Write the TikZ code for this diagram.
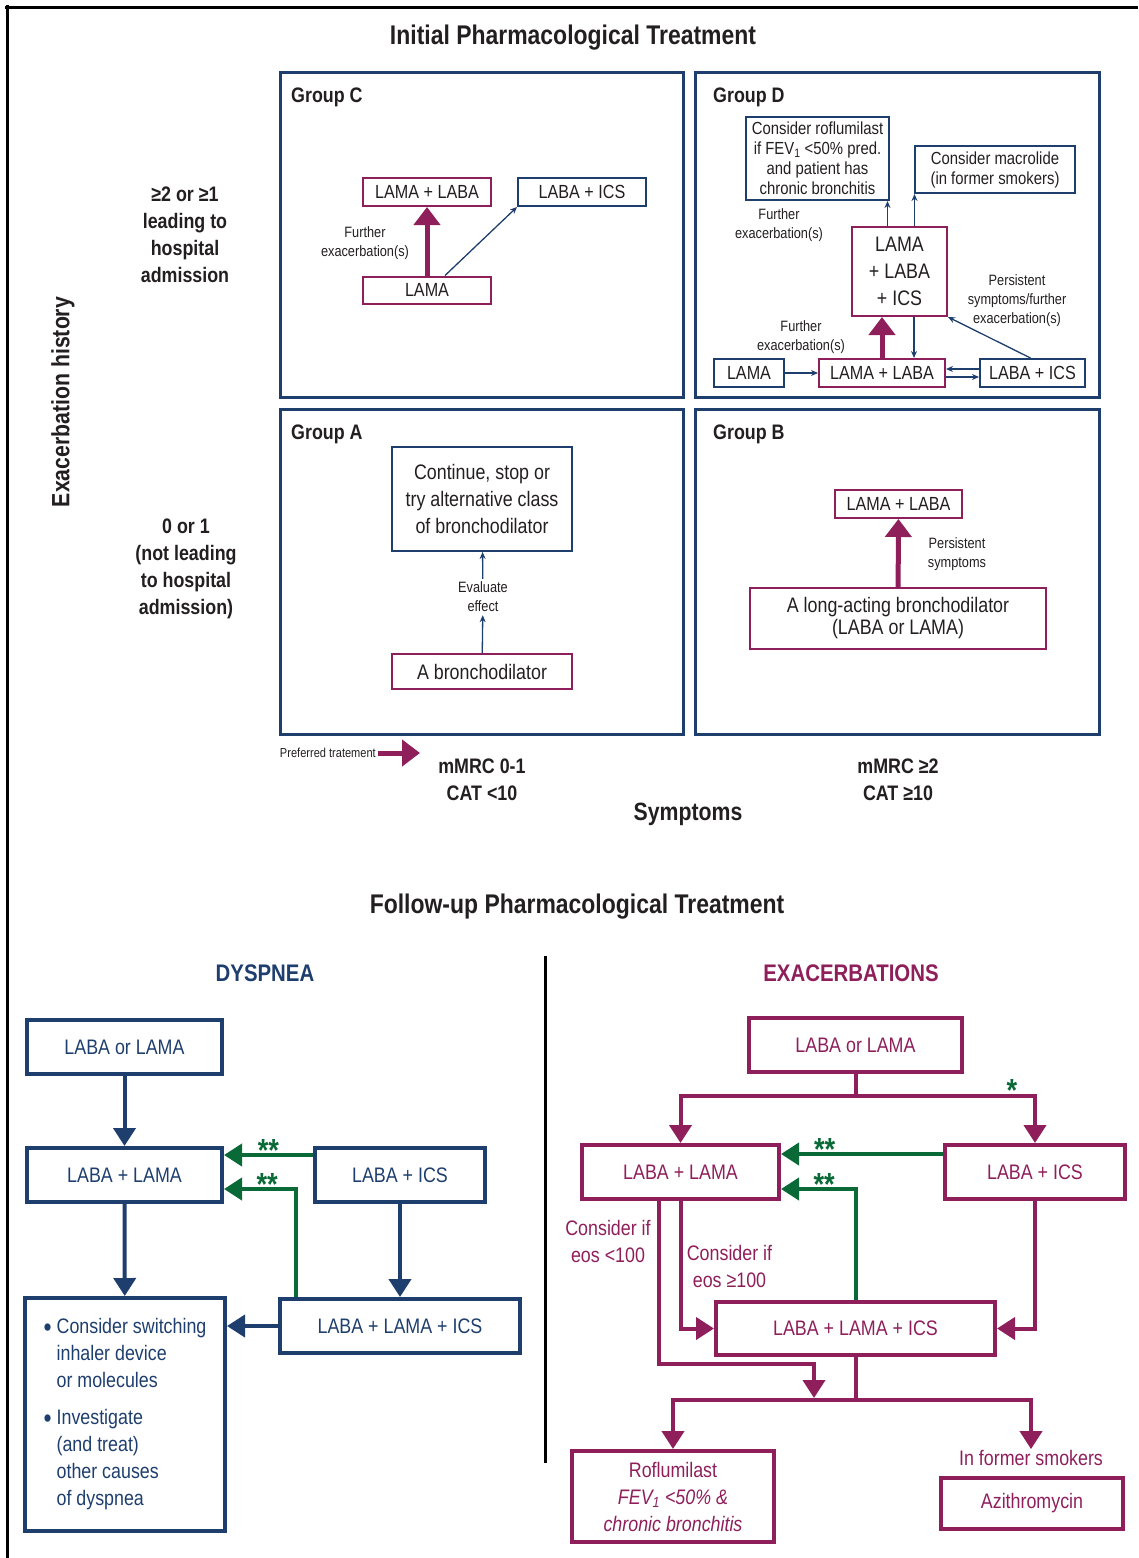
\documentclass[tikz,border=0pt]{standalone}
\usepackage{fontspec}
\setmainfont{Liberation Sans}[FakeStretch=0.85]
\usetikzlibrary{arrows.meta, calc, positioning}

\definecolor{navy}{RGB}{30,62,110}
\definecolor{plum}{RGB}{142,31,91}
\definecolor{leaf}{RGB}{10,106,55}
\definecolor{ink}{RGB}{35,31,32}

\tikzset{
  grp/.style={draw=navy, line width=3pt},
  grplabel/.style={anchor=west, inner sep=0pt, text=ink, font=\fontsize{21}{25}\selectfont\bfseries},
  box/.style={draw, line width=2pt, inner sep=0pt, align=center, text=ink, font=\fontsize{19}{23}\selectfont},
  nbox/.style={box, draw=navy},
  pbox/.style={box, draw=plum},
  fbox/.style={draw, line width=4pt, inner sep=0pt, align=center, font=\fontsize{21}{27}\selectfont},
  small/.style={inner sep=2pt, align=center, text=ink, font=\fontsize{15}{19}\selectfont},
  head/.style={inner sep=0pt, align=center, text=ink, font=\fontsize{21}{27}\selectfont\bfseries},
  tarrow/.style={navy, line width=1.3pt, -{Stealth[length=7pt,width=6pt]}},
  parrow/.style={plum, line width=5pt, -{Triangle[length=18pt,width=26pt]}},
  farrow/.style={line width=4pt, -{Triangle[length=18pt,width=22pt]}},
  garrow/.style={farrow, leaf},
  stars/.style={inner sep=0pt, text=leaf, font=\fontsize{32}{32}\selectfont\bfseries},
}

\begin{document}
\begin{tikzpicture}[x=1pt, y=-1pt]

\useasboundingbox (0,0) rectangle (1138,1558);

% Outer frame (top and left only)
\draw[black, line width=3pt] (5,7) -- (1138,7);
\draw[black, line width=3pt] (7,5) -- (7,1558);

% Title of the upper part
\node[head, font=\fontsize{27}{32}\selectfont\bfseries] (initTitle) at (573,38) {Initial Pharmacological Treatment};

% The four group frames
\draw[grp] (280,72) rectangle (683,397);
\draw[grp] (695,72) rectangle (1099,397);
\draw[grp] (280,409) rectangle (683,734);
\draw[grp] (695,409) rectangle (1099,734);
\node[grplabel] (labC) at (291,97) {Group C};
\node[grplabel] (labD) at (713,97) {Group D};
\node[grplabel] (labA) at (291,434) {Group A};
\node[grplabel] (labB) at (713,434) {Group B};

% Group C
\node[pbox, minimum width=128pt, minimum height=28pt] (cLL) at (427,192) {LAMA + LABA};
\node[nbox, minimum width=128pt, minimum height=28pt] (cLI) at (582,192) {LABA + ICS};
\node[pbox, minimum width=128pt, minimum height=27pt] (cL) at (427,290) {LAMA};
\draw[parrow] (cL) -- (cLL);
\draw[tarrow] ([xshift=18pt]cL.north) -- (cLI.south west);
\node[small] (cFurther) at (365,243) {Further\\exacerbation(s)};

% Group D
\node[nbox, font=\fontsize{17.5}{20}\selectfont, minimum width=143pt, minimum height=83pt] (dRof) at (817.5,158.5) {Consider roflumilast\\if FEV\textsubscript{1} <50\% pred.\\and patient has\\chronic bronchitis};
\node[nbox, font=\fontsize{17.5}{20}\selectfont, minimum width=160pt, minimum height=47pt] (dMac) at (995,169.5) {Consider macrolide\\(in former smokers)};
\node[pbox, font=\fontsize{21}{27}\selectfont, minimum width=95pt, minimum height=89pt] (dTriple) at (899.5,271.5) {LAMA\\+ LABA\\+ ICS};
\node[nbox, minimum width=70pt, minimum height=28pt] (dL) at (749,373) {LAMA};
\node[pbox, minimum width=126pt, minimum height=28pt] (dLL) at (882,373) {LAMA + LABA};
\node[nbox, minimum width=105pt, minimum height=28pt] (dLI) at (1032.5,373) {LABA + ICS};
\draw[tarrow] ([xshift=-12pt]dTriple.north) -- ([xshift=-12pt]dTriple.north |- dRof.south);
\draw[tarrow] ([xshift=15pt]dTriple.north) -- ([xshift=15pt]dTriple.north |- dMac.south);
\draw[tarrow] (dL) -- (dLL);
\draw[parrow] (dLL.north) -- (dLL.north |- dTriple.south);
\draw[tarrow] ([xshift=14.5pt]dTriple.south) -- ([xshift=14.5pt]dTriple.south |- dLL.north);
\draw[tarrow] ([yshift=4pt]dLI.west) -- ([yshift=4pt]dLI.west -| dLL.east);
\draw[tarrow] ([yshift=-4pt]dLL.east) -- ([yshift=-4pt]dLL.east -| dLI.west);
\draw[tarrow] ([xshift=-2pt]dLI.north) -- (dTriple.south east);
\node[small] (dFurther) at (779,225) {Further\\exacerbation(s)};
\node[small] (dPersist) at (1017,301) {Persistent\\symptoms/further\\exacerbation(s)};
\node[small] (dFurtherLow) at (801,337) {Further\\exacerbation(s)};

% Group A
\node[nbox, font=\fontsize{21}{27}\selectfont, minimum width=180pt, minimum height=104pt] (aCont) at (482,499) {Continue, stop or\\try alternative class\\of bronchodilator};
\node[pbox, font=\fontsize{21}{25}\selectfont, minimum width=180pt, minimum height=35pt] (aBron) at (482,671.5) {A bronchodilator};
\node[small, inner sep=3pt] (aEval) at (483,597) {Evaluate\\effect};
\draw[tarrow] (aBron) -- (aEval);
\draw[tarrow] (aEval) -- (aCont);

% Group B
\node[pbox, minimum width=127pt, minimum height=28pt] (bLL) at (898.5,504) {LAMA + LABA};
\node[pbox, font=\fontsize{21}{22}\selectfont, minimum width=296pt, minimum height=61pt] (bLong) at (898,618.5) {A long-acting bronchodilator\\(LABA or LAMA)};
\draw[parrow] (bLong) -- (bLL);
\node[small] (bPersist) at (957,554) {Persistent\\symptoms};

% Axis labels
\node[head, rotate=90, font=\fontsize{25}{30}\selectfont\bfseries] (histLabel) at (63,402) {Exacerbation history};
\node[head] (hiLabel) at (185,234.5) {≥2 or ≥1\\leading to\\hospital\\admission};
\node[head] (loLabel) at (186,568.5) {0 or 1\\(not leading\\to hospital\\admission)};
\node[head] (symLow) at (482,779.5) {mMRC 0-1\\CAT <10};
\node[head] (symHigh) at (898,779.5) {mMRC ≥2\\CAT ≥10};
\node[head, font=\fontsize{25}{30}\selectfont\bfseries] (symLabel) at (688,814) {Symptoms};

% Legend
\node[small, anchor=east, font=\fontsize{13}{15}\selectfont] (prefLabel) at (378,753) {Preferred tratement};
\coordinate (prefEnd) at (420,753);
\draw[parrow] (prefLabel.east) -- (prefEnd);

% Title of the lower part
\node[head, font=\fontsize{27}{32}\selectfont\bfseries] (followTitle) at (577,907) {Follow-up Pharmacological Treatment};
\draw[black, line width=3pt] (545,956) -- (545,1463);
\node[head, text=navy, font=\fontsize{24}{28}\selectfont\bfseries] (dysTitle) at (265,973) {DYSPNEA};
\node[head, text=plum, font=\fontsize{24}{28}\selectfont\bfseries] (exaTitle) at (851,973) {EXACERBATIONS};

% Dyspnea
\node[fbox, draw=navy, text=navy, minimum width=195pt, minimum height=54pt] (yLoL) at (124.5,1047) {LABA or LAMA};
\node[fbox, draw=navy, text=navy, minimum width=195pt, minimum height=54pt] (yLL) at (124.5,1175) {LABA + LAMA};
\node[fbox, draw=navy, text=navy, minimum width=170pt, minimum height=54pt] (yLI) at (400,1175) {LABA + ICS};
\node[fbox, draw=navy, text=navy, minimum width=240pt, minimum height=54pt] (yTri) at (400,1326) {LABA + LAMA + ICS};
\node[fbox, draw=navy, text=navy, minimum width=200pt, minimum height=233pt] (yNote) at (125,1414.5) {%
  \begin{tabular}{@{}l@{\hspace{5pt}}l@{}}
  \raisebox{-3pt}{\fontsize{27}{27}\selectfont\textbullet} & Consider switching\\
   & inhaler device\\
   & or molecules\\[10pt]
  \raisebox{-3pt}{\fontsize{27}{27}\selectfont\textbullet} & Investigate\\
   & (and treat)\\
   & other causes\\
   & of dyspnea
  \end{tabular}};
\draw[farrow, navy] (yLoL) -- (yLL);
\draw[farrow, navy] (yLL) -- (yNote);
\draw[farrow, navy] (yLI) -- (yTri);
\draw[farrow, navy] (yTri.west) -- (yTri.west -| yNote.east);
\draw[garrow] ([yshift=20pt]yLI.west) -- ([yshift=20pt]yLI.west -| yLL.east) node[stars, midway, anchor=base, yshift=-6.5pt] (yStarA) {**};
\draw[garrow] ([xshift=-104pt]yTri.north) |- ([yshift=-14pt]yLL.east) node[stars, pos=0.70, anchor=base, yshift=-6.5pt] (yStarB) {**};

% Exacerbations
\node[fbox, draw=plum, text=plum, minimum width=213pt, minimum height=54pt] (xLoL) at (855.5,1045) {LABA or LAMA};
\node[fbox, draw=plum, text=plum, minimum width=197pt, minimum height=54pt] (xLL) at (680.5,1172) {LABA + LAMA};
\node[fbox, draw=plum, text=plum, minimum width=180pt, minimum height=54pt] (xLI) at (1035,1172) {LABA + ICS};
\node[fbox, draw=plum, text=plum, minimum width=279pt, minimum height=53pt] (xTri) at (855.5,1328.5) {LABA + LAMA + ICS};
\node[fbox, draw=plum, text=plum, minimum width=202pt, minimum height=91pt] (xRof) at (673,1496.5) {Roflumilast\\\textit{FEV\textsubscript{1} <50\% \&}\\\textit{chronic bronchitis}};
\node[fbox, draw=plum, text=plum, minimum width=182pt, minimum height=51pt] (xAzi) at (1032,1503.5) {Azithromycin};
\node[inner sep=1pt, text=plum, font=\fontsize{21}{25}\selectfont] (xSmok) at (1031,1458) {In former smokers};

% Forks of the exacerbation tree
\coordinate (xFork) at ($(xLoL.south)+(0,22)$);
\coordinate (xFork2) at ($(xTri.south)+(0,43)$);
\coordinate (xMerge) at ($(xFork2)+(-41.5,-2)$);
\draw[plum, line width=4pt] (xLoL.south) -- (xFork);
\draw[farrow, plum] (xFork) -| (xLL.north);
\draw[farrow, plum] (xFork) -| (xLI.north);
\node[stars] (xStar) at (1012,1090) {*};
\draw[garrow] ([yshift=18pt]xLI.west) -- ([yshift=18pt]xLI.west -| xLL.east) node[stars, pos=0.73, anchor=base, yshift=-6.5pt] (xStarA) {**};
\draw[garrow] (xTri.north) |- ([yshift=-17pt]xLL.east) node[stars, pos=0.71, anchor=base, yshift=-6.5pt] (xStarB) {**};
\draw[farrow, plum] (xLL.south) |- (xTri.west);
\draw[farrow, plum] ([xshift=-21.5pt]xLL.south) |- ($(xMerge)+(0,-34)$) -- (xMerge);
\draw[farrow, plum] (xLI.south) |- (xTri.east);
\draw[plum, line width=4pt] (xTri.south) -- (xFork2);
\draw[farrow, plum] (xFork2) -| (xRof.north);
\draw[farrow, plum] (xFork2) -| (xSmok.north);
\node[inner sep=0pt, align=center, text=plum, font=\fontsize{21}{27}\selectfont] (xLow) at (608,1241.5) {Consider if\\eos <100};
\node[inner sep=0pt, align=center, text=plum, font=\fontsize{21}{27}\selectfont] (xHigh) at (729.5,1266.5) {Consider if\\eos ≥100};

\end{tikzpicture}
\end{document}
